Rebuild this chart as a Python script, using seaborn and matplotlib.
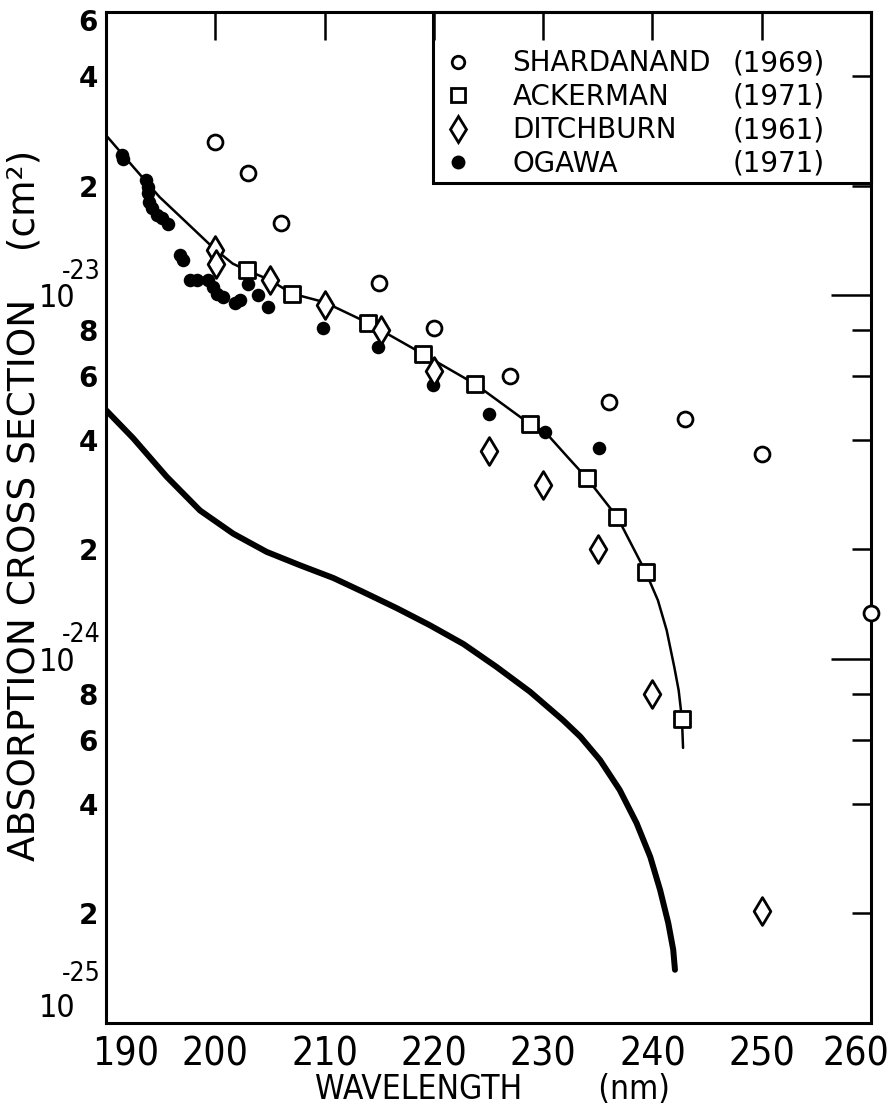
import numpy as np
import matplotlib
matplotlib.use("Agg")
import matplotlib.pyplot as plt
import matplotlib.ticker as mticker
from matplotlib import font_manager
from matplotlib.font_manager import FontProperties
from matplotlib.patches import Rectangle
from matplotlib.lines import Line2D
from matplotlib.transforms import ScaledTranslation
import seaborn as sns

# wavelength in nm, cross section in units of 1e-23 cm^2
shard_wl = [200, 203, 206, 215, 220, 227, 236, 243, 250, 260]
shard_sig = [2.63, 2.16, 1.58, 1.08, 0.81, 0.60, 0.508, 0.456, 0.366, 0.134]

acker_wl = [202.9, 207.0, 214.0, 219.0, 223.8, 228.8, 234.0, 236.8, 239.4, 242.7]
acker_sig = [1.17, 1.01, 0.838, 0.689, 0.569, 0.442, 0.314, 0.245, 0.173, 0.0684]

ditch_wl = [200.0, 200.1, 205.0, 210.0, 215.2, 220.0, 225.0, 230.0, 235.0, 240.0, 250.0]
ditch_sig = [1.33, 1.22, 1.10, 0.94, 0.80, 0.618, 0.373, 0.30, 0.20, 0.080, 0.0203]

ogawa_wl = [191.5, 191.6, 193.7, 193.8, 193.8, 193.9, 194.2, 194.7, 195.1, 195.7,
            196.8, 197.0, 197.7, 198.3, 199.3, 199.8, 200.2, 200.7, 201.8, 202.3,
            203.0, 203.9, 204.8, 209.9, 214.9, 219.9, 225.0, 230.2, 235.1]
ogawa_sig = [2.42, 2.36, 2.07, 1.98, 1.91, 1.80, 1.73, 1.66, 1.63, 1.57,
             1.29, 1.25, 1.10, 1.10, 1.10, 1.05, 1.01, 0.99, 0.95, 0.97,
             1.07, 1.00, 0.93, 0.81, 0.72, 0.566, 0.47, 0.42, 0.38]

# thin curve through the Ackerman points
fit_wl = [190, 192.5, 194.9, 197.4, 199.8, 201.6, 202.9, 205, 207, 210, 214, 219,
          223.8, 228.8, 230.2, 232.2, 234, 236.8, 239.4, 240.5, 241.3, 242.0, 242.4,
          242.7, 242.8]
fit_sig = [2.75, 2.25, 1.86, 1.58, 1.35, 1.22, 1.17, 1.10, 1.01, 0.956, 0.838, 0.689,
           0.569, 0.442, 0.42, 0.36, 0.314, 0.245, 0.173, 0.145, 0.12, 0.095, 0.082,
           0.0684, 0.057]

# heavy lower curve
low_wl = [190.0, 192.5, 195.55, 198.6, 201.65, 204.7, 207.75, 210.8, 213.5, 216.6,
          219.6, 222.7, 225.7, 228.8, 231.8, 233.4, 235.2, 237.0, 238.55, 239.8,
          240.7, 241.45, 241.9, 242.06]
low_sig = [0.483, 0.404, 0.317, 0.256, 0.221, 0.197, 0.181, 0.167, 0.153, 0.138,
           0.124, 0.110, 0.0953, 0.0813, 0.0680, 0.0612, 0.0528, 0.0437, 0.0354, 0.0286,
           0.0232, 0.0188, 0.0159, 0.0140]

names = ["SHARDANAND", "ACKERMAN", "DITCHBURN", "OGAWA"]
years = ["(1969)", "(1971)", "(1961)", "(1971)"]

x_ticks = list(range(190, 261, 10))
y_major = [1e-25, 1e-24, 1e-23]
y_minor = [m * d for d in (1e-25, 1e-24) for m in (2, 4, 6, 8)] + [2e-23, 4e-23, 6e-23]


def narrow_font():
    # the original lettering is condensed; take a condensed face if one is installed
    for fam, st in [('Liberation Sans Narrow', 'normal'), ('DejaVu Sans', 'condensed'),
                    ('Noto Sans', 'condensed'), ('Roboto Condensed', 'normal')]:
        try:
            path = font_manager.findfont(FontProperties(family=fam, stretch=st),
                                         fallback_to_default=False)
        except ValueError:
            continue
        if 'arrow' in path or 'ondensed' in path:
            return FontProperties(fname=path)
    return None


nf = narrow_font()
if nf is not None:
    num_fp, xt_size, ten_size, sup_size, xl_size = nf, 28, 23, 19, 24
else:
    num_fp, xt_size, ten_size, sup_size, xl_size = FontProperties(family='DejaVu Sans'), 23, 21, 16, 22

sns.set_style("white")
plt.rcParams['font.family'] = ['DejaVu Sans']
for k in ['text.color', 'axes.labelcolor', 'xtick.color', 'ytick.color', 'axes.edgecolor']:
    plt.rcParams[k] = 'black'

fig = plt.figure(figsize=(8.93, 11.04), dpi=100)
ax = fig.add_axes([0.1187, 0.0734, 0.8567, 0.9158])

u = 1e-23
sns.lineplot(x=fit_wl, y=np.array(fit_sig) * u, sort=False, estimator=None,
             color='black', linewidth=1.8, ax=ax)
sns.lineplot(x=low_wl, y=np.array(low_sig) * u, sort=False, estimator=None,
             color='black', linewidth=4.3, ax=ax, solid_joinstyle='round',
             solid_capstyle='round')

sns.scatterplot(x=ogawa_wl, y=np.array(ogawa_sig) * u, marker='o', s=95,
                color='black', edgecolor='black', linewidth=0, ax=ax, zorder=3)
sns.scatterplot(x=shard_wl, y=np.array(shard_sig) * u, marker='o', s=115,
                color='white', edgecolor='black', linewidth=2.0, ax=ax, zorder=4,
                clip_on=False)
sns.scatterplot(x=acker_wl, y=np.array(acker_sig) * u, marker='s', s=135,
                color='white', edgecolor='black', linewidth=2.0, ax=ax, zorder=4)
sns.scatterplot(x=ditch_wl, y=np.array(ditch_sig) * u, marker='d', s=200,
                color='white', edgecolor='black', linewidth=2.0, ax=ax, zorder=4)

ax.set_yscale('log')
ax.set_xlim(190, 260)
ax.set_ylim(1e-25, 6e-23)

ax.xaxis.set_major_locator(mticker.FixedLocator(x_ticks))
ax.xaxis.set_minor_locator(mticker.NullLocator())
ax.yaxis.set_major_locator(mticker.FixedLocator(y_major))
ax.yaxis.set_minor_locator(mticker.FixedLocator(y_minor))
ax.yaxis.set_major_formatter(mticker.FuncFormatter(lambda v, p: '10'))
ax.yaxis.set_minor_formatter(mticker.FuncFormatter(
    lambda v, p: '%d' % int(round(v / 10 ** np.floor(np.log10(v) + 1e-9)))))

ax.tick_params(which='both', direction='in', top=True, right=True, width=1.8, color='black')
ax.tick_params(axis='x', which='major', length=20, labelsize=xt_size, pad=9)
ax.tick_params(axis='y', which='major', length=29, labelsize=ten_size, pad=22)
ax.tick_params(axis='y', which='minor', length=14, labelsize=20, pad=6)

for sp in ax.spines.values():
    sp.set_linewidth(2.2)
    sp.set_color('black')

ax.set_xlabel('WAVELENGTH        (nm)', fontproperties=num_fp, fontsize=xl_size)
ax.xaxis.set_label_coords(0.505, -0.0748)
ax.xaxis.label.set_va('baseline')
ax.set_ylabel('ABSORPTION CROSS SECTION    (cm²)', fontsize=27)
ax.yaxis.set_label_coords(-0.083, 0.512)

# exponents of the decade labels
for v in y_major:
    dy = 17 + (18 if v == y_major[0] else 0)
    ax.annotate('-%d' % abs(int(round(np.log10(v)))), xy=(0, v),
                xycoords=('axes fraction', 'data'), xytext=(-4, dy),
                textcoords='offset points', ha='right', va='center',
                fontproperties=num_fp, fontsize=sup_size, annotation_clip=False)

# legend box
bx0, by0 = 0.4275, 0.8309
ax.add_patch(Rectangle((bx0, by0), 1 - bx0, 1 - by0, transform=ax.transAxes,
                       fill=False, edgecolor='black', lw=2.2, zorder=5, clip_on=False))
handles = [
    Line2D([], [], ls='', marker='o', ms=9, mfc='white', mec='black', mew=2),
    Line2D([], [], ls='', marker='s', ms=10, mfc='white', mec='black', mew=2),
    Line2D([], [], ls='', marker='d', ms=13, mfc='white', mec='black', mew=2),
    Line2D([], [], ls='', marker='o', ms=10, mfc='black', mec='black', mew=0),
]
leg = ax.legend(handles, names, loc='upper left', bbox_to_anchor=(bx0 + 0.015, 0.963),
                frameon=False, fontsize=20, handlelength=1.0, handletextpad=1.45,
                labelspacing=0.2, borderaxespad=0, borderpad=0)
leg.set_zorder(6)

fig.canvas.draw()

for t in ax.xaxis.get_major_ticks():
    t.label1.set_fontproperties(num_fp)
    t.label1.set_fontsize(xt_size)
for t in ax.yaxis.get_major_ticks():
    t.label1.set_fontproperties(num_fp)
    t.label1.set_fontsize(ten_size)

# nudge the corner labels like the original
ticks = ax.xaxis.get_major_ticks()
ticks[0].label1.set_transform(ticks[0].label1.get_transform()
                              + ScaledTranslation(14 / 72, 0, fig.dpi_scale_trans))
ticks[-1].label1.set_transform(ticks[-1].label1.get_transform()
                               + ScaledTranslation(-11 / 72, 0, fig.dpi_scale_trans))
ymaj = ax.yaxis.get_major_ticks()
ymaj[0].label1.set_transform(ymaj[0].label1.get_transform()
                             + ScaledTranslation(0, 13 / 72, fig.dpi_scale_trans))
ymin = ax.yaxis.get_minor_ticks()
for t in ymin:
    t.label1.set_fontweight('bold')
ymin[-1].label1.set_transform(ymin[-1].label1.get_transform()
                              + ScaledTranslation(0, -6 / 72, fig.dpi_scale_trans))

inv = ax.transAxes.inverted()
for txt, yr in zip(leg.get_texts(), years):
    bb = txt.get_window_extent()
    yc = inv.transform((0, (bb.y0 + bb.y1) / 2))[1]
    ax.text(0.94, yc, yr, transform=ax.transAxes, ha='right', va='center',
            fontsize=20, zorder=7)

plt.savefig('out.png', dpi=100)
plt.close()
